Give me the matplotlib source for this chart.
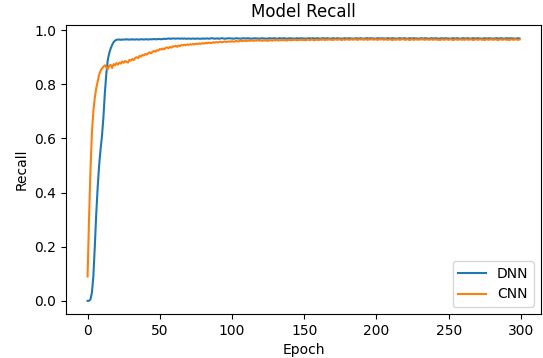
import matplotlib
matplotlib.use("Agg")
import matplotlib.pyplot as plt

dnn_recall = [
    0.000,0.000,0.005,0.030,0.090,0.200,0.320,0.420,0.500,0.560,0.610,0.680,0.770,0.840,0.890,0.915,0.932,0.945,0.955,0.961,
    0.964,0.965,0.965,0.964,0.965,0.965,0.965,0.966,0.965,0.965,0.965,0.966,0.965,0.965,0.966,0.965,0.965,0.966,0.966,0.965,
    0.966,0.966,0.965,0.966,0.966,0.966,0.967,0.966,0.966,0.967,0.967,0.966,0.967,0.968,0.967,0.968,0.969,0.968,0.968,0.969,
    0.969,0.968,0.969,0.969,0.968,0.969,0.968,0.969,0.968,0.968,0.969,0.968,0.968,0.969,0.968,0.968,0.969,0.968,0.968,0.968,
    0.969,0.968,0.969,0.969,0.968,0.969,0.970,0.969,0.968,0.969,0.969,0.968,0.969,0.970,0.969,0.968,0.969,0.969,0.970,0.969,
    0.969,0.968,0.969,0.970,0.969,0.969,0.968,0.969,0.970,0.969,0.969,0.970,0.969,0.968,0.969,0.969,0.970,0.969,0.969,0.968,
    0.969,0.970,0.969,0.969,0.968,0.969,0.970,0.969,0.969,0.970,0.969,0.968,0.969,0.970,0.969,0.969,0.970,0.969,0.968,0.969,
    0.970,0.969,0.969,0.968,0.969,0.970,0.969,0.969,0.970,0.969,0.969,0.968,0.969,0.970,0.969,0.969,0.970,0.969,0.969,0.970,
    0.969,0.968,0.969,0.970,0.969,0.969,0.970,0.969,0.968,0.969,0.970,0.969,0.969,0.970,0.969,0.969,0.968,0.969,0.970,0.969,
    0.969,0.970,0.969,0.969,0.968,0.969,0.970,0.969,0.969,0.970,0.969,0.968,0.969,0.970,0.969,0.969,0.970,0.969,0.969,0.968,
    0.969,0.970,0.969,0.969,0.970,0.969,0.968,0.969,0.970,0.969,0.969,0.970,0.969,0.969,0.968,0.969,0.970,0.969,0.969,0.970,
    0.969,0.968,0.969,0.970,0.969,0.969,0.970,0.969,0.969,0.968,0.969,0.970,0.969,0.969,0.970,0.969,0.968,0.969,0.970,0.969,
    0.969,0.970,0.969,0.968,0.969,0.970,0.969,0.969,0.970,0.969,0.969,0.968,0.969,0.970,0.969,0.969,0.970,0.969,0.968,0.969,
    0.970,0.969,0.969,0.970,0.969,0.968,0.969,0.970,0.969,0.969,0.970,0.969,0.969,0.968,0.969,0.970,0.969,0.969,0.970,0.969,
    0.969,0.968,0.969,0.970,0.969,0.969,0.970,0.969,0.968,0.969,0.970,0.969,0.969,0.970,0.969,0.969,0.968,0.969,0.970,0.969,
]

cnn_recall = [
    0.090,0.300,0.480,0.620,0.700,0.750,0.785,0.810,0.835,0.850,0.858,0.865,0.870,0.862,0.855,0.868,0.872,0.860,0.874,0.870,
    0.878,0.872,0.880,0.876,0.884,0.879,0.886,0.882,0.880,0.890,0.887,0.893,0.889,0.897,0.900,0.896,0.905,0.902,0.908,0.906,
    0.912,0.909,0.915,0.918,0.914,0.920,0.923,0.920,0.926,0.924,0.930,0.928,0.932,0.929,0.934,0.936,0.933,0.938,0.935,0.940,
    0.939,0.942,0.938,0.943,0.941,0.945,0.943,0.946,0.944,0.947,0.945,0.948,0.946,0.949,0.947,0.950,0.948,0.951,0.949,0.950,
    0.952,0.950,0.953,0.951,0.954,0.952,0.953,0.955,0.953,0.956,0.954,0.955,0.957,0.955,0.956,0.958,0.956,0.957,0.958,0.957,
    0.959,0.957,0.958,0.960,0.958,0.959,0.961,0.959,0.960,0.961,0.959,0.962,0.960,0.961,0.962,0.960,0.962,0.961,0.963,0.961,
    0.962,0.960,0.963,0.961,0.962,0.960,0.963,0.962,0.961,0.963,0.962,0.964,0.961,0.963,0.962,0.964,0.962,0.963,0.961,0.964,
    0.963,0.962,0.964,0.963,0.965,0.962,0.964,0.963,0.965,0.963,0.964,0.962,0.965,0.964,0.963,0.965,0.964,0.962,0.965,0.964,
    0.963,0.965,0.964,0.966,0.963,0.965,0.964,0.966,0.964,0.965,0.963,0.966,0.965,0.964,0.966,0.965,0.963,0.966,0.964,0.965,
    0.966,0.964,0.965,0.966,0.964,0.967,0.965,0.964,0.966,0.965,0.967,0.964,0.966,0.965,0.964,0.966,0.965,0.967,0.964,0.966,
    0.965,0.964,0.966,0.965,0.967,0.964,0.966,0.965,0.964,0.966,0.965,0.963,0.966,0.964,0.965,0.966,0.964,0.965,0.967,0.965,
    0.964,0.966,0.965,0.963,0.966,0.965,0.964,0.966,0.965,0.964,0.966,0.965,0.967,0.964,0.965,0.966,0.964,0.965,0.966,0.964,
    0.965,0.966,0.964,0.965,0.963,0.966,0.965,0.964,0.966,0.965,0.964,0.966,0.965,0.963,0.965,0.966,0.964,0.965,0.966,0.964,
    0.965,0.964,0.966,0.965,0.964,0.966,0.965,0.963,0.965,0.966,0.964,0.965,0.966,0.964,0.965,0.963,0.966,0.965,0.964,0.966,
    0.965,0.964,0.966,0.965,0.963,0.965,0.966,0.964,0.965,0.966,0.964,0.965,0.963,0.966,0.965,0.964,0.966,0.965,0.964,0.965,
]

epochs = list(range(len(dnn_recall)))
series_labels = ["DNN", "CNN"]

fig = plt.figure(figsize=(5.43, 3.58), dpi=100)
ax = fig.add_axes([0.1215, 0.123, 0.875, 0.807])
ax.plot(epochs, dnn_recall, label=series_labels[0])
ax.plot(list(range(len(cnn_recall))), cnn_recall, label=series_labels[1])
ax.set_title("Model Recall")
ax.set_xlabel("Epoch")
ax.set_ylabel("Recall")
ax.legend(loc="lower right")
fig.savefig("out.png", dpi=100)
